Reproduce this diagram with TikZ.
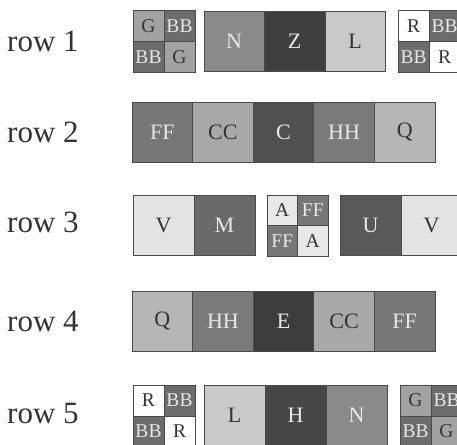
\documentclass[tikz,border=0pt]{standalone}
\usepackage{fontspec}
\setmainfont{Liberation Serif}
\definecolor{bord}{HTML}{4A4A4A}
\definecolor{txtdk}{HTML}{333333}
\definecolor{txtlt}{HTML}{E8E8E8}
\definecolor{colG}{HTML}{A2A2A2}
\definecolor{colBB}{HTML}{6C6C6C}
\definecolor{colN}{HTML}{8A8A8A}
\definecolor{colZ}{HTML}{3F3F3F}
\definecolor{colL}{HTML}{C9C9C9}
\definecolor{colR}{HTML}{FFFFFF}
\definecolor{colFF}{HTML}{777777}
\definecolor{colCC}{HTML}{A8A8A8}
\definecolor{colC}{HTML}{505050}
\definecolor{colHH}{HTML}{7A7A7A}
\definecolor{colQ}{HTML}{B6B6B6}
\definecolor{colV}{HTML}{E3E3E3}
\definecolor{colM}{HTML}{6A6A6A}
\definecolor{colA}{HTML}{E8E8E8}
\definecolor{colU}{HTML}{595959}
\definecolor{colE}{HTML}{3C3C3C}
\definecolor{colH}{HTML}{474747}
\begin{document}
\begin{tikzpicture}[x=1pt,y=1pt,
  big/.style={draw=bord, line width=1pt, minimum width=60.6pt, minimum height=60pt, inner sep=0pt, font=\fontsize{22}{22}\selectfont},
  small/.style={draw=bord, line width=0.8pt, minimum width=31pt, minimum height=31pt, inner sep=0pt, font=\fontsize{19.5}{19.5}\selectfont},
  lbl/.style={anchor=base west, inner sep=0pt, text=txtdk, font=\fontsize{31}{31}\selectfont},
  lt/.style={fill=#1, text=txtdk},
  dk/.style={fill=#1, text=txtlt}]
\useasboundingbox (0,0) rectangle (457,444);
% labels
\node[lbl] (l1) at (7,392) {row 1};
\node[lbl] (l2) at (7,301) {row 2};
\node[lbl] (l3) at (7,211) {row 3};
\node[lbl] (l4) at (7,112) {row 4};
\node[lbl] (l5) at (7,21) {row 5};
% row 1
\node[small,lt=colG] (a1) at (148.5,418) {G};
\node[small,dk=colBB] (a2) at (179.5,418) {BB};
\node[small,dk=colBB] (a3) at (148.5,387) {BB};
\node[small,lt=colG] (a4) at (179.5,387) {G};
\node[big,dk=colN,minimum width=60pt] (b1) at (234,402.5) {N};
\node[big,dk=colZ,minimum width=61pt] (b2) at (294.5,402.5) {Z};
\node[big,lt=colL,minimum width=60pt] (b3) at (355,402.5) {L};
\node[small,lt=colR] (c1) at (413.5,418) {R};
\node[small,dk=colBB] (c2) at (444.5,418) {BB};
\node[small,dk=colBB] (c3) at (413.5,387) {BB};
\node[small,lt=colR] (c4) at (444.5,387) {R};
% row 2
\node[big,dk=colFF] (d1) at (162.3,311.5) {FF};
\node[big,lt=colCC] (d2) at (222.9,311.5) {CC};
\node[big,dk=colC] (d3) at (283.5,311.5) {C};
\node[big,dk=colHH] (d4) at (344.1,311.5) {HH};
\node[big,lt=colQ] (d5) at (404.7,311.5) {Q};
% row 3
\node[big,lt=colV,minimum width=61pt] (e1) at (163.5,218.5) {V};
\node[big,dk=colM,minimum width=61pt] (e2) at (224.5,218.5) {M};
\node[small,lt=colA,minimum width=30.5pt,minimum height=30.5pt] (f1) at (282.25,233.75) {A};
\node[small,dk=colFF,minimum width=30.5pt,minimum height=30.5pt] (f2) at (312.75,233.75) {FF};
\node[small,dk=colFF,minimum width=30.5pt,minimum height=30.5pt] (f3) at (282.25,203.25) {FF};
\node[small,lt=colA,minimum width=30.5pt,minimum height=30.5pt] (f4) at (312.75,203.25) {A};
\node[big,dk=colU,minimum width=61pt] (g1) at (370.5,218.5) {U};
\node[big,lt=colV,minimum width=61pt] (g2) at (431.5,218.5) {V};
% row 4
\node[big,lt=colQ] (h1) at (162.3,122.5) {Q};
\node[big,dk=colHH] (h2) at (222.9,122.5) {HH};
\node[big,dk=colE] (h3) at (283.5,122.5) {E};
\node[big,lt=colCC] (h4) at (344.1,122.5) {CC};
\node[big,dk=colFF] (h5) at (404.7,122.5) {FF};
% row 5
\node[small,lt=colR] (i1) at (148.5,43.5) {R};
\node[small,dk=colBB] (i2) at (179.5,43.5) {BB};
\node[small,dk=colBB] (i3) at (148.5,12.5) {BB};
\node[small,lt=colR] (i4) at (179.5,12.5) {R};
\node[big,lt=colL,minimum width=61pt,minimum height=61pt] (j1) at (234.5,28.5) {L};
\node[big,dk=colH,minimum width=61pt,minimum height=61pt] (j2) at (295.5,28.5) {H};
\node[big,dk=colN,minimum width=61pt,minimum height=61pt] (j3) at (356.5,28.5) {N};
\node[small,lt=colG] (k1) at (415.5,43.5) {G};
\node[small,dk=colBB] (k2) at (446.5,43.5) {BB};
\node[small,dk=colBB] (k3) at (415.5,12.5) {BB};
\node[small,lt=colG] (k4) at (446.5,12.5) {G};
\end{tikzpicture}
\end{document}
